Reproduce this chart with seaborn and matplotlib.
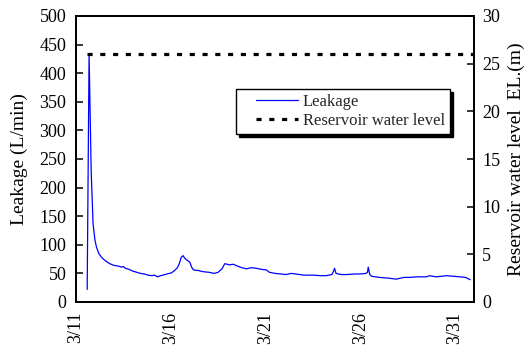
import matplotlib
matplotlib.use("Agg")
import matplotlib.pyplot as plt
import seaborn as sns
import pandas as pd
import numpy as np
from matplotlib.ticker import MultipleLocator, FixedLocator
from matplotlib.legend_handler import HandlerLine2D

sns.set_theme(style="white")
plt.rcParams['font.family'] = ['Liberation Serif', 'DejaVu Serif']
plt.rcParams['mathtext.fontset'] = 'stix'

# Leakage time series (day of March, L/min)
leak_day = [11.59, 11.69, 11.80, 11.90, 12.00, 12.08, 12.20, 12.35, 12.55, 12.78, 13.00,
            13.20, 13.40, 13.50, 13.60, 13.80, 14.00, 14.20, 14.40, 14.60, 14.80, 15.00,
            15.15, 15.30, 15.45, 15.60, 15.80, 16.04, 16.20, 16.35, 16.45, 16.55, 16.65,
            16.75, 16.90, 17.00, 17.10, 17.20, 17.45, 17.70, 18.00, 18.30, 18.50, 18.70,
            18.85, 19.10, 19.30, 19.50, 19.75, 20.00, 20.25, 20.50, 20.80, 21.05, 21.20,
            21.50, 21.80, 22.10, 22.35, 22.60, 23.00, 23.50, 23.90, 24.20, 24.50, 24.58,
            24.64, 24.72, 25.00, 25.30, 25.70, 26.00, 26.30, 26.38, 26.42, 26.50, 26.60,
            27.00, 27.40, 27.90, 28.30, 28.60, 29.00, 29.50, 29.65, 30.00, 30.30, 30.55,
            30.90, 31.25, 31.55, 31.80]
leak_val = [22, 433, 230, 137, 108, 96, 85, 78, 72, 67, 64,
            63, 61, 62, 59, 57, 54, 52, 50, 49, 47, 46,
            47, 44, 46, 47, 49, 51, 55, 60, 67, 78, 81,
            76, 72, 70, 61, 56, 55, 53, 52, 50, 52, 58,
            67, 65, 66, 63, 60, 58, 60, 59, 57, 56, 52,
            50, 49, 48, 50, 49, 47, 47, 46, 46, 48, 53,
            59, 50, 48, 48, 49, 49, 50, 52, 61, 48, 45,
            43, 42, 40, 43, 43, 44, 44, 46, 44, 45, 46,
            45, 44, 43, 39]

# Reservoir water level (m)
res_day = [11.59, 32.0]
res_val = [26, 26]

x_ticks = [11, 16, 21, 26, 31]
x_labels = ["3/11", "3/16", "3/21", "3/26", "3/31"]

df_leak = pd.DataFrame({"day": leak_day, "leak": leak_val})
df_res = pd.DataFrame({"day": res_day, "level": res_val})

fig = plt.figure(figsize=(5.30, 3.52), dpi=100)
ax = fig.add_axes([76/530, 1-302/352, 398/530, 286/352])
ax2 = ax.twinx()

sns.lineplot(data=df_leak, x="day", y="leak", ax=ax, color="#0000ff", lw=0.9,
             label="Leakage", legend=False)
sns.lineplot(data=df_res, x="day", y="level", ax=ax2, color="black", lw=2.3,
             label="Reservoir water level", legend=False)
ax2.lines[0].set_linestyle((0, (1.6, 2.4)))

ax.set_xlim(11, 32)
ax.set_ylim(0, 500)
ax2.set_ylim(0, 30)
ax.xaxis.set_major_locator(FixedLocator(x_ticks))
ax.set_xticklabels(x_labels, rotation=90, fontsize=13)
ax.xaxis.set_minor_locator(MultipleLocator(1))
ax.yaxis.set_major_locator(MultipleLocator(50))
ax2.yaxis.set_major_locator(MultipleLocator(5))

for a in (ax, ax2):
    for s in a.spines.values():
        s.set_color("black")
        s.set_linewidth(1.3)
ax.tick_params(axis="y", which="major", direction="in", length=5, width=1.1,
               colors="black", labelsize=13, pad=7)
ax.tick_params(axis="x", which="major", direction="in", length=5, width=1.1,
               colors="black", labelsize=13, pad=7)
ax.tick_params(axis="x", which="minor", direction="in", length=5, width=1.1, color="black")
ax.tick_params(axis="y", right=False)
ax2.tick_params(axis="y", direction="in", length=5, width=1.1, colors="black",
                labelsize=13, pad=6)

ax.set_xlabel("")
ax.set_ylabel("Leakage (L/min)", fontsize=14, color="black", labelpad=8)
ax2.set_ylabel("Reservoir water level  EL.(m)", fontsize=14, color="black", labelpad=5)

h1, l1 = ax.get_legend_handles_labels()
h2, l2 = ax2.get_legend_handles_labels()
hmap = {h: HandlerLine2D(xpad=0.9) for h in h1 + h2}
leg = ax2.legend(h1 + h2, l1 + l2, loc="upper right", bbox_to_anchor=(0.94, 0.745),
                 fontsize=12, frameon=True, fancybox=False,
                 shadow={'color': 'black', 'alpha': 1},
                 edgecolor="black", framealpha=1, handlelength=3.4, borderpad=0.3,
                 labelspacing=0.2, handletextpad=0.3, borderaxespad=0, handler_map=hmap)
leg.get_frame().set_linewidth(1.0)

fig.savefig("out.png", dpi=100, facecolor="white")
